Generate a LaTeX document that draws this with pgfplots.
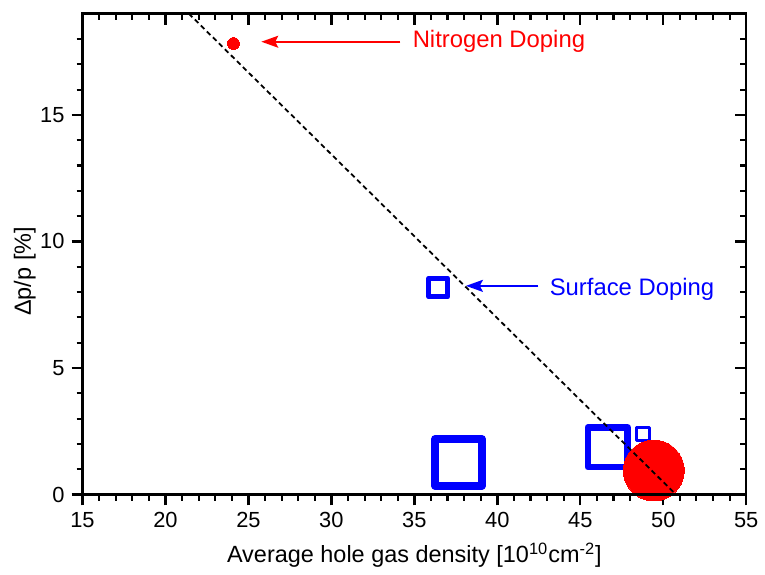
\documentclass[border=0pt]{standalone}
\usepackage{fontspec}
\setmainfont{Liberation Sans}
\usepackage{pgfplots}
\pgfplotsset{compat=1.18}
\usetikzlibrary{arrows.meta}
\definecolor{myblue}{RGB}{0,0,255}
\definecolor{myred}{RGB}{255,0,0}
\pgfplotsset{
  common/.style={
    scale only axis, width=334pt, height=242pt,
    xmin=15, xmax=55, ymin=0, ymax=19,
    xtick={15,20,...,55}, ytick={0,5,10,15},
    minor xtick={16,...,54}, minor ytick={1,...,18},
    axis line style={line width=1.25pt},
    major tick length=5.5pt, minor tick length=3pt,
    major tick style={line width=1.2pt, black},
    minor tick style={line width=1.05pt, black},
    /pgf/number format/assume math mode=true,
    ticklabel style={font=\fontsize{11}{13}\selectfont},
    label style={font=\fontsize{11.8}{14}\selectfont},
  }
}
\begin{document}
\begin{tikzpicture}
\begin{axis}[common, name=ax,
  xtick pos=left, ytick pos=left, tick align=outside,
  xlabel={Average hole gas density [10\textsuperscript{10}cm\textsuperscript{-2}]},
  ylabel={Δp/p [\%]},
  xlabel style={at={(axis description cs:0.5,-0.142)}, anchor=base},
  ylabel style={at={(axis description cs:-0.087,0.464)}, anchor=center},
]
% surface doping squares
\addplot[only marks, mark=square, mark size=4.75pt, mark options={draw=myblue, line width=2.5pt, line join=round}] coordinates {(36.44,8.18)};
\addplot[only marks, mark=square, mark size=11.75pt, mark options={draw=myblue, line width=4pt, line join=round}] coordinates {(37.66,1.27)};
\addplot[only marks, mark=square, mark size=10pt, mark options={draw=myblue, line width=3.25pt, line join=round}] coordinates {(46.66,1.87)};
\addplot[only marks, mark=square, mark size=3.25pt, mark options={draw=myblue, line width=1.4pt, line join=round}] coordinates {(48.77,2.4)};
% nitrogen doping
\addplot[only marks, color=myred, mark=*, mark size=3pt, mark options={fill=myred, draw=myred, line width=0pt}] coordinates {(24.1,17.82)};
\addplot[only marks, color=myred, mark=*, mark size=15.3pt, mark options={fill=myred, draw=myred, line width=0pt}] coordinates {(49.43,0.95)};
% annotations
\draw[myred, line width=1pt, -{Stealth[length=8.5pt, width=6pt, inset=1.5pt]}] (axis cs:34.16,17.89) -- (axis cs:25.78,17.89);
\node[myred, anchor=base west, inner sep=0pt, font=\fontsize{12}{14}\selectfont] at (axis cs:34.88,17.66) {Nitrogen Doping};
\draw[myblue, line width=1pt, -{Stealth[length=8.5pt, width=6pt, inset=1.5pt]}] (axis cs:42.47,8.245) -- (axis cs:38.11,8.245);
\node[myblue, anchor=base west, inner sep=0pt, font=\fontsize{12}{14}\selectfont] at (axis cs:43.14,7.88) {Surface Doping};
\end{axis}
\begin{axis}[common, at={(ax.south west)}, anchor=south west,
  xtick pos=right, ytick pos=right, tick align=inside,
  xticklabels={}, yticklabels={}]
% fit line (drawn on top of the markers)
\addplot[black, line width=0.9pt, dash pattern=on 2.5pt off 1.75pt] coordinates {(21.41,19) (50.77,0)};
\end{axis}
\path[use as bounding box] ([xshift=-41.5pt,yshift=-37.5pt]ax.south west) rectangle ([xshift=7pt,yshift=5pt]ax.north east);
\end{tikzpicture}
\end{document}
